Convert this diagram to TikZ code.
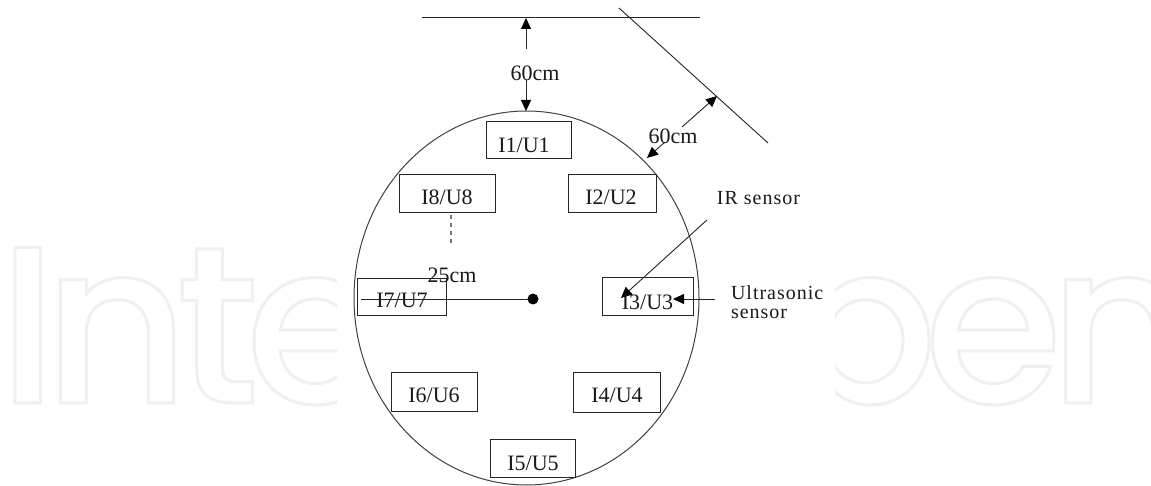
\documentclass[tikz,border=0pt]{standalone}
\usepackage{fontspec}
\usetikzlibrary{arrows.meta,shapes.geometric}
\setmainfont{Liberation Serif}
\newfontfamily\wmfont{Poppins Medium}[LetterSpace=-6]
\tikzset{
  every node/.style={inner sep=0pt,outer sep=0pt},
  ln/.style={draw=black!85,line width=0.9pt},
  sbox/.style={draw=black!85,line width=0.9pt,rectangle},
  lab/.style={font=\fontsize{22}{24}\selectfont,text=black!90},
  spaced/.style={font=\fontsize{20}{19}\selectfont\addfontfeature{LetterSpace=5},text=black!90,align=left},
  arr/.style={ln,-{Triangle[length=11pt,width=10pt,color=black]}}
}
\begin{document}
\begin{tikzpicture}[x=1pt,y=-1pt]
\useasboundingbox (0,0) rectangle (1151,486);
\fill[white] (0,0) rectangle (1151,486);
% watermark
\node[anchor=base west,text=white] (wm) at (-2,403) {\special{pdf:code 1 Tr 3 w 0.94 0.94 0.94 RG}\fontsize{224}{224}\selectfont\wmfont IntechOpen\special{pdf:code 0 Tr}};
\fill[white] (337,0) rectangle (835,486);
% robot body
\node[draw=black!75,line width=1pt,ellipse,minimum width=345pt,minimum height=374pt] (body) at (526.5,298) {};
% walls
\coordinate (w1a) at (422,17.5); \coordinate (w1b) at (700,17.5);
\coordinate (w2a) at (619,8); \coordinate (w2b) at (768,143);
\draw[ln] (w1a) -- (w1b);
\draw[ln] (w2a) -- (w2b);
% sensors
\node[sbox,minimum width=85pt,minimum height=37pt,label={[lab,xshift=-4.5pt,yshift=-5.5pt]center:I1/U1}] (s1) at (528.5,139.5) {};
\node[sbox,minimum width=88pt,minimum height=38pt,label={[lab,xshift=-1pt,yshift=-4pt]center:I2/U2}] (s2) at (612,193) {};
\node[sbox,minimum width=91pt,minimum height=38pt,label={[lab,xshift=0pt,yshift=-6pt]center:I3/U3}] (s3) at (647.5,296) {};
\node[sbox,minimum width=87pt,minimum height=40pt,label={[lab,xshift=0.5pt,yshift=-3pt]center:I4/U4}] (s4) at (616.5,392) {};
\node[sbox,minimum width=85pt,minimum height=38pt,label={[lab,xshift=0.5pt,yshift=-5pt]center:I5/U5}] (s5) at (532.5,458) {};
\node[sbox,minimum width=86pt,minimum height=39pt,label={[lab,xshift=0pt,yshift=-3.5pt]center:I6/U6}] (s6) at (434,391.5) {};
\node[sbox,minimum width=89pt,minimum height=37pt,label={[lab,xshift=0.5pt,yshift=-4pt]center:I7/U7}] (s7) at (401.5,296.5) {};
\node[sbox,minimum width=96pt,minimum height=38pt,label={[lab,xshift=0pt,yshift=-4pt]center:I8/U8}] (s8) at (447,193) {};
% labels
\node[lab] (d1) at (535,73) {60cm};
\node[lab] (d2) at (673,136) {60cm};
\node[lab] (d3) at (452,275) {25cm};
\node[spaced] (ir) at (758.5,198) {IR sensor};
\node[spaced,anchor=west] (us) at (731,302.5) {Ultrasonic\\sensor};
% distance arrows
\coordinate (a1s) at (526,49); \coordinate (a1e) at (526,18);
\coordinate (a2s) at (526,80); \coordinate (a2e) at (526,111);
\coordinate (a3s) at (682,127); \coordinate (a3e) at (717,96);
\coordinate (a4s) at (665,142); \coordinate (a4e) at (647,158);
\draw[arr] (a1s) -- (a1e);
\draw[arr] (a2s) -- (a2e);
\draw[arr] (a3s) -- (a3e);
\draw[arr] (a4s) -- (a4e);
% centre and radius
\node[circle,fill=black,minimum size=11pt] (c) at (533,299) {};
\coordinate (rad) at (361,299);
\draw[ln] (rad) -- (c);
\coordinate (da) at (451,215); \coordinate (db) at (451,246);
\draw[draw=black!55,line width=1.6pt,dash pattern=on 4pt off 4pt] (da) -- (db);
% sensor pointers
\coordinate (ira) at (707,220); \coordinate (irb) at (621,298);
\draw[arr] (ira) -- (irb);
\coordinate (usa) at (715,299); \coordinate (usb) at (673,299);
\draw[arr] (usa) -- (usb);
\end{tikzpicture}
\end{document}
